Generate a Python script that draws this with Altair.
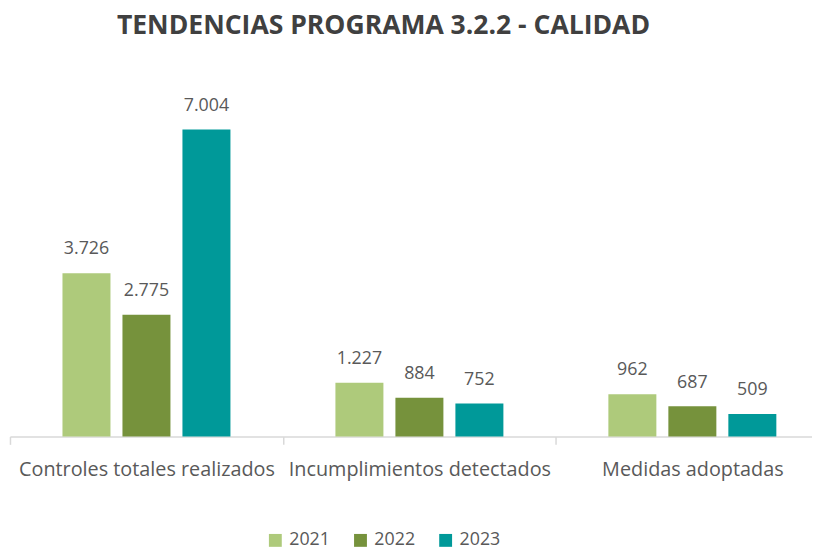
import altair as alt
import pandas as pd

categories = ["Controles totales realizados", "Incumplimientos detectados", "Medidas adoptadas"]
years = ["2021", "2022", "2023"]
values_2021 = [3726, 1227, 962]
values_2022 = [2775, 884, 687]
values_2023 = [7004, 752, 509]
colors = ["#AECA7B", "#76923C", "#009999"]

rows = []
for yr, vals in zip(years, [values_2021, values_2022, values_2023]):
    for c, v in zip(categories, vals):
        lab = f"{v:,}".replace(",", ".")
        rows.append({"categoria": c, "anio": yr, "valor": v, "etiqueta": lab})
df = pd.DataFrame(rows)

FONT = "Open Sans"

base = alt.Chart(df).encode(
    x=alt.X("categoria:N", sort=categories,
            scale=alt.Scale(paddingInner=0, paddingOuter=0, range=[0, 827]),
            axis=alt.Axis(title=None, labelAngle=0, tickBand="extent", tickSize=8,
                          tickColor="#D9D9D9", domainColor="#D9D9D9", domainWidth=1.5,
                          tickWidth=1.5, labelFont=FONT, labelFontSize=20,
                          labelColor="#595959", labelBaseline="alphabetic",
                          labelPadding=31, labelLimit=400)),
    xOffset=alt.XOffset("anio:N", sort=years,
                        scale=alt.Scale(paddingInner=0.2, paddingOuter=0.875)),
    y=alt.Y("valor:Q", scale=alt.Scale(domain=[0, 8000]), axis=None),
)

bars = base.mark_bar().encode(
    color=alt.Color("anio:N", sort=years,
                    scale=alt.Scale(domain=years, range=colors),
                    legend=alt.Legend(title=None, orient="none", direction="horizontal",
                                      legendX=259, legendY=450, symbolType="square",
                                      symbolSize=169, symbolStrokeWidth=0,
                                      labelFont=FONT, labelFontSize=18,
                                      labelColor="#595959", labelOffset=5,
                                      columnPadding=21)),
)

labels = base.mark_text(font=FONT, fontSize=18, color="#595959",
                        baseline="alphabetic", dy=-19).encode(text="etiqueta:N")

chart = (bars + labels).properties(
    width=810, height=354,
    background="white",
    autosize=alt.AutoSizeParams(type="none"),
    padding={"left": 2, "top": 76, "right": 0, "bottom": 109},
    title=alt.Title("TENDENCIAS PROGRAMA 3.2.2 - CALIDAD", font=FONT, fontSize=26.8,
                    fontWeight="bold", color="#404040", anchor="start", frame="group",
                    dx=108, offset=26, baseline="alphabetic"),
).configure_view(stroke=None)

chart.save("out.html", embed_options={"renderer": "svg", "actions": False})
